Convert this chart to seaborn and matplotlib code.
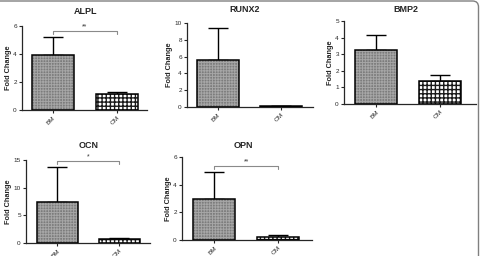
import numpy as np
import pandas as pd
import seaborn as sns
import matplotlib.pyplot as plt
from matplotlib.patches import Rectangle, FancyBboxPatch

# Data (mean fold change and upper error)
groups = ["BM", "OM"]
genes = ["ALPL", "RUNX2", "BMP2", "OCN", "OPN"]
alpl_mean = [3.95, 1.15]
alpl_err = [1.3, 0.15]
runx2_mean = [5.55, 0.1]
runx2_err = [3.9, 0.02]
bmp2_mean = [3.25, 1.4]
bmp2_err = [0.9, 0.35]
ocn_mean = [7.5, 0.75]
ocn_err = [6.3, 0.08]
opn_mean = [3.0, 0.25]
opn_err = [1.9, 0.1]
ymax = [6, 10, 5, 15, 6]
yticks = [[0, 2, 4, 6], [0, 2, 4, 6, 8, 10], [0, 1, 2, 3, 4, 5], [0, 5, 10, 15], [0, 2, 4, 6]]
# significance annotations: (label, bracket height) or None
sig = [("**", 5.65), None, None, ("*", 14.8), ("**", 5.33)]

means = [alpl_mean, runx2_mean, bmp2_mean, ocn_mean, opn_mean]
errs = [alpl_err, runx2_err, bmp2_err, ocn_err, opn_err]

W, H = 481, 256
# axes boxes in pixels: left, right, top, bottom ; and xlim
boxes = [(22, 147, 26, 110, (-0.48, 1.47)),
         (187, 313, 23, 107, (-0.49, 1.51)),
         (344, 476, 21, 104, (-0.51, 1.57)),
         (26, 150, 160, 243, (-0.5, 1.49)),
         (182, 312, 157, 240, (-0.51, 1.54))]
# title centre positions in pixels
title_pos = [(86, 11), (244.5, 10), (405.5, 10), (88.5, 145), (243.5, 145)]

sns.set_style("ticks")
plt.rcParams["font.family"] = ["Liberation Sans", "DejaVu Sans"]
plt.rcParams["hatch.linewidth"] = 0.7

fig = plt.figure(figsize=(W / 100, H / 100), dpi=100)

styles = [("#7c7c7c", "#a6a6a6", "++++++"), ("#ffffff", "#1a1a1a", "++++")]

for i, gene in enumerate(genes):
    l, r, t, b, xl = boxes[i]
    ax = fig.add_axes([l / W, 1 - b / H, (r - l) / W, (b - t) / H])
    df = pd.DataFrame({"group": groups, "value": means[i]})
    sns.barplot(data=df, x="group", y="value", ax=ax, width=0.66,
                errorbar=None, zorder=2)
    ax.errorbar([0, 1], means[i], yerr=[[0, 0], errs[i]], fmt="none",
                ecolor="black", elinewidth=1, capsize=7, capthick=1, zorder=1)
    for j, p in enumerate(ax.patches):
        fc, hc, hatch = styles[j]
        p.set_facecolor(fc)
        p.set_edgecolor(hc)
        p.set_hatch(hatch)
        p.set_linewidth(0)
        if j == 1 and hasattr(p, "set_hatch_linewidth"):
            p.set_hatch_linewidth(1.0)
        ax.add_patch(Rectangle(p.get_xy(), p.get_width(), p.get_height(),
                               fill=False, edgecolor="black", lw=1.1, zorder=3))
    ax.set_xlim(*xl)
    ax.set_ylim(0, ymax[i])
    ax.set_yticks(yticks[i])
    ax.set_xlabel("")
    ax.set_ylabel("Fold Change", fontsize=5.3, fontweight="bold", labelpad=1)
    tx, ty = title_pos[i]
    fig.text(tx / W, 1 - ty / H, gene, fontsize=6.5, fontweight="bold",
             ha="center", va="center")
    ax.tick_params(axis="both", labelsize=4.6, length=2.5, width=0.8, pad=1.2)
    for lab in ax.get_xticklabels():
        lab.set_rotation(45)
        lab.set_ha("right")
        lab.set_rotation_mode("anchor")
    for s in ["left", "bottom"]:
        ax.spines[s].set_linewidth(0.9)
    sns.despine(ax=ax)
    if sig[i] is not None:
        lab, y = sig[i]
        d = ymax[i] * 0.035
        ax.plot([0, 0, 1, 1], [y - d, y, y, y - d], color="#8a8a8a", lw=0.8,
                clip_on=False)
        ax.text(0.5, y + d * 0.3, lab, ha="center", va="bottom", fontsize=5,
                color="#333333")

# grey page frame with a rounded top-right corner
frame = FancyBboxPatch((-0.1, -0.1), 4.885, 2.65,
                       boxstyle="round,pad=0,rounding_size=0.06",
                       transform=fig.dpi_scale_trans, fill=False,
                       edgecolor="#808080", lw=1.0)
fig.add_artist(frame)

fig.savefig("out.png", dpi=100)
